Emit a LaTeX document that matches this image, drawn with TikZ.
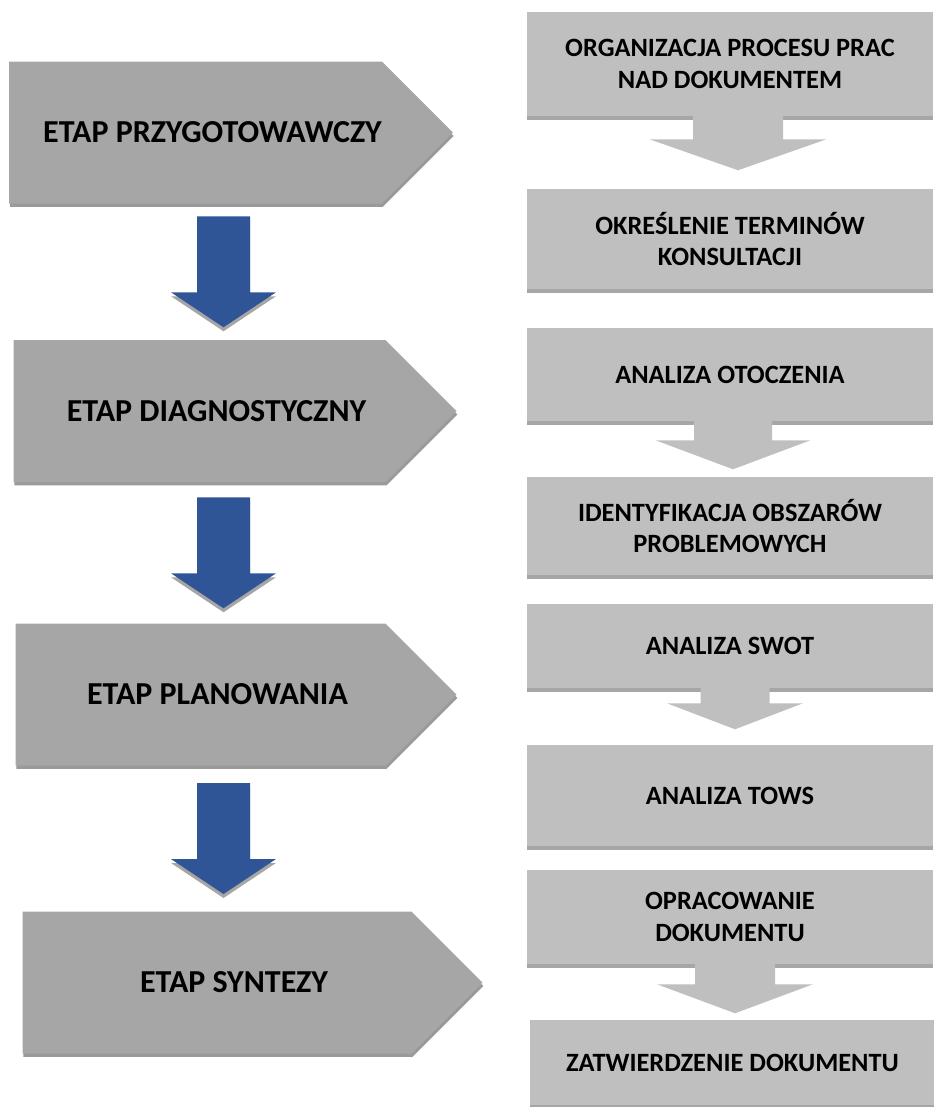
\documentclass[tikz,border=0pt]{standalone}
\usepackage{fontspec}
\setmainfont{Carlito}
\usetikzlibrary{shapes.symbols, shadows, calc}

\definecolor{stagegray}{HTML}{A6A6A6}
\definecolor{taskgray}{HTML}{BFBFBF}
\definecolor{stageblue}{HTML}{2F5597}
\definecolor{shadegray}{HTML}{9A9A9A}

\tikzset{
  stage/.style={signal, signal to=east, signal pointer angle=90, fill=stagegray, inner sep=0pt,
    minimum width=330.75pt, minimum height=106.5pt, font=\fontsize{24}{28}\selectfont\bfseries,
    execute at begin node={\hspace*{25.5pt}},
    drop shadow={shadow xshift=0.6pt, shadow yshift=-2.6pt, fill=shadegray, opacity=1}},
  task/.style={rectangle, fill=taskgray, inner sep=0pt, minimum width=304.5pt, align=center,
    font=\fontsize{19.8}{23.5}\selectfont\bfseries,
    drop shadow={shadow xshift=0pt, shadow yshift=-3.2pt, fill=stagegray, opacity=1}},
  bluearrow/.style={fill=stageblue, drop shadow={shadow xshift=0pt, shadow yshift=-3pt, fill=stagegray, opacity=1}},
  grayarrow/.style={fill=taskgray}
}

\begin{document}
\begin{tikzpicture}[x=0.75pt,y=0.75pt,yscale=-1,xscale=1]
\useasboundingbox (0,0) rectangle (934,1107);

%Shape: Pentagon
\node [stage, minimum width=328.5pt] (p1) at (195.5,132.5) {ETAP PRZYGOTOWAWCZY};
%Shape: Pentagon
\node [stage, minimum width=332.25pt] (p2) at (199.5,411) {ETAP DIAGNOSTYCZNY};
%Shape: Pentagon
\node [stage] (p3) at (200.5,694.5) {ETAP PLANOWANIA};
%Shape: Pentagon
\node [stage, minimum width=345pt] (p4) at (217,982.5) {ETAP SYNTEZY};

%Shape: Rectangle
\node [task, minimum height=78pt] (t1) at (730,64) {ORGANIZACJA PROCESU PRAC\\NAD DOKUMENTEM};
%Shape: Rectangle
\node [task, minimum height=75pt] (t2) at (730,239) {OKREŚLENIE TERMINÓW\\KONSULTACJI};
%Shape: Rectangle
\node [task, minimum height=69.75pt] (t3) at (730,374.5) {ANALIZA OTOCZENIA};
%Shape: Rectangle
\node [task, minimum height=73.5pt] (t4) at (730,526) {IDENTYFIKACJA OBSZARÓW\\PROBLEMOWYCH};
%Shape: Rectangle
\node [task, minimum height=63pt] (t5) at (730,646) {ANALIZA SWOT};
%Shape: Rectangle
\node [task, minimum height=75.75pt] (t6) at (730,795.5) {ANALIZA TOWS};
%Shape: Rectangle
\node [task, minimum height=70.5pt] (t7) at (730,917) {OPRACOWANIE\\DOKUMENTU};
%Shape: Rectangle
\node [task, minimum height=63.75pt] (t8) at (732.5,1062.5) {ZATWIERDZENIE DOKUMENTU};

%Shape: Down Arrow
\path ($(p1.south)!0.5!(p2.north)$) coordinate (m1);
\fill [bluearrow] (m1 -| 223.5,0) ++(-26.5,-55.5) -- ++(53,0) -- ++(0,76) -- ++(26,0) -- ++(-52.5,35) -- ++(-52.5,-35) -- ++(26,0) -- cycle;
%Shape: Down Arrow
\path ($(p2.south)!0.5!(p3.north)$) coordinate (m2);
\fill [bluearrow] (m2 -| 223.5,0) ++(-26.5,-55.5) -- ++(53,0) -- ++(0,76) -- ++(26,0) -- ++(-52.5,35) -- ++(-52.5,-35) -- ++(26,0) -- cycle;
%Shape: Down Arrow
\path ($(p3.south)!0.5!(p4.north)$) coordinate (m3);
\fill [bluearrow] (m3 -| 223.5,0) ++(-26.5,-55.5) -- ++(53,0) -- ++(0,76) -- ++(26,0) -- ++(-52.5,35) -- ++(-52.5,-35) -- ++(26,0) -- cycle;

%Shape: Down Arrow
\fill [grayarrow] ($(t1.south)+(8,-1)$) ++(-45,0) -- ++(90,0) -- ++(0,24) -- ++(43.5,0) -- ++(-88.5,31) -- ++(-88.5,-31) -- ++(43.5,0) -- cycle;
%Shape: Down Arrow
\fill [grayarrow] ($(t3.south)+(3,-1)$) ++(-39,0) -- ++(78,0) -- ++(0,20) -- ++(38.5,0) -- ++(-77.5,29) -- ++(-77.5,-29) -- ++(38.5,0) -- cycle;
%Shape: Down Arrow
\fill [grayarrow] ($(t5.south)+(5,-1)$) ++(-34.5,0) -- ++(69,0) -- ++(0,16) -- ++(33.5,0) -- ++(-68,26) -- ++(-68,-26) -- ++(33.5,0) -- cycle;
%Shape: Down Arrow
\fill [grayarrow] ($(t7.south)+(5,-1)$) ++(-40,0) -- ++(80,0) -- ++(0,21) -- ++(38,0) -- ++(-78,29) -- ++(-78,-29) -- ++(38,0) -- cycle;

\end{tikzpicture}
\end{document}
